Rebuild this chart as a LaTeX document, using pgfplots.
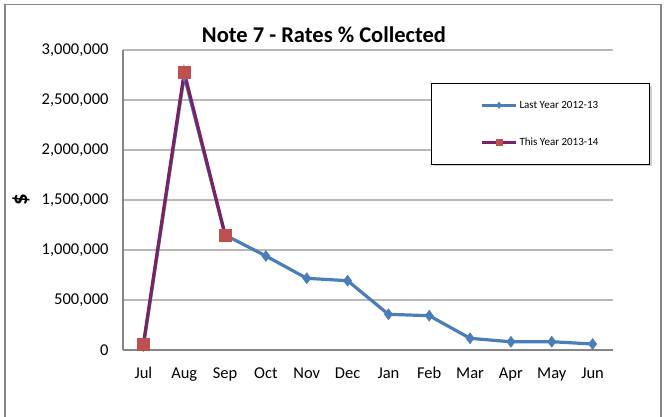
\documentclass[border=0pt]{standalone}
\usepackage{fontspec}
\setmainfont{Carlito}
\usepackage{pgfplots}
\pgfplotsset{compat=1.18}
\definecolor{lyblue}{HTML}{4A7EBB}
\definecolor{typurple}{HTML}{7B2166}
\definecolor{tyred}{HTML}{C0504D}
\definecolor{gridgray}{HTML}{B8B8B8}
\definecolor{axgray}{HTML}{868686}
\begin{document}
\begin{tikzpicture}[x=1pt,y=1pt]
\useasboundingbox (0,0) rectangle (665,416);
\draw[axgray,line width=1.5pt] (5,-2) -- (5,411.5) -- (661,411.5) -- (661,-2);
\begin{axis}[
  at={(123pt,66pt)}, anchor=south west,
  scale only axis, width=490pt, height=300pt,
  xmin=-0.5, xmax=11.5, ymin=0, ymax=3000000,
  xtick={0,...,11},
  xticklabels={Jul,Aug,Sep,Oct,Nov,Dec,Jan,Feb,Mar,Apr,May,Jun},
  ytick={0,500000,...,3000000},
  scaled y ticks=false,
  yticklabel style={xshift=-11pt,/pgf/number format/fixed,/pgf/number format/precision=0,/pgf/number format/1000 sep={,},/pgf/number format/assume math mode=true},
  tick label style={font=\fontsize{16.5}{19}\selectfont},
  xticklabel style={yshift=-14pt},
  major tick length=0pt,
  axis x line*=bottom, axis y line*=left,
  axis line style={axgray,line width=1.2pt,-},
  ymajorgrids, grid style={gridgray,line width=1.2pt},
  clip=false,
  legend style={at={(0.6286,0.89)},anchor=north west,draw=black,line width=1pt,fill=white,
    font=\fontsize{11}{13}\selectfont, inner xsep=49pt, inner ysep=15.5pt, row sep=24pt},
  legend cell align=left,
  legend image code/.code={\draw[mark repeat=2,mark phase=2,line width=3pt,mark size=3.2pt] plot coordinates {(0pt,0pt)(17pt,0pt)(34pt,0pt)};},
]
\fill[black,opacity=0.18] (rel axis cs:0.6347,0.88) rectangle (rel axis cs:1.0796,0.6133);
\addplot[lyblue,line width=3.2pt,mark=diamond*,mark size=5.5pt,mark options={line width=0.5pt,fill=lyblue}] coordinates {
(0,40000)(1,2740000)(2,1150000)(3,940000)(4,717000)(5,693000)(6,357000)(7,343000)(8,117000)(9,82000)(10,83000)(11,60000)};
\addlegendentry{Last Year 2012-13}
\addplot[typurple,line width=3.2pt,mark=square*,mark size=6pt,mark options={line width=0.3pt,draw=tyred,fill=tyred}] coordinates {
(0,60000)(1,2777000)(2,1153000)};
\addlegendentry{This Year 2013-14}
\end{axis}
\node[font=\bfseries\fontsize{22.5}{26}\selectfont] at (324,381) {Note 7 - Rates \% Collected};
\node[font=\bfseries\fontsize{23}{27}\selectfont,rotate=90] at (21,216) {\$};
\end{tikzpicture}
\end{document}
